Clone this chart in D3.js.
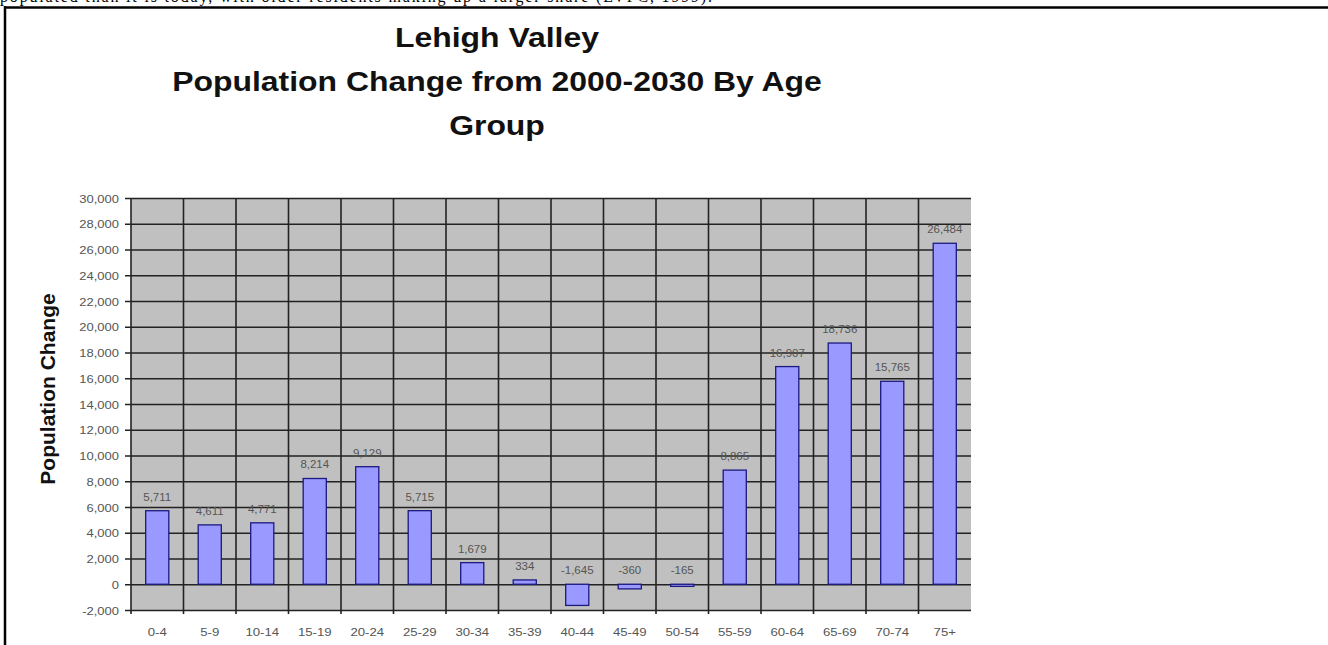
<!DOCTYPE html>
<html><head><meta charset="utf-8">
<script src="https://cdn.jsdelivr.net/npm/d3@7"></script>
<style>
html,body{margin:0;padding:0;background:#fff;}
svg{display:block;}
</style></head>
<body>
<svg id="chart" width="1328" height="645"></svg>
<script>
const categories = ["0-4","5-9","10-14","15-19","20-24","25-29","30-34","35-39","40-44","45-49","50-54","55-59","60-64","65-69","70-74","75+"];
const values = [5711,4611,4771,8214,9129,5715,1679,334,-1645,-360,-165,8865,16907,18736,15765,26484];
const yTicks = [-2000,0,2000,4000,6000,8000,10000,12000,14000,16000,18000,20000,22000,24000,26000,28000,30000];
const titleLines = ["Lehigh Valley","Population Change from 2000-2030 By Age","Group"];
const yTitle = "Population Change";
const topText = "populated than it is today, with older residents making up a larger share (LVPC, 1999).";

const svg = d3.select("#chart");
const L = 131, R = 971, T = 198, B = 610;

const x = d3.scaleBand().domain(categories).range([L, R]).paddingInner(0.56).paddingOuter(0.28);
const xb = d3.scaleBand().domain(categories).range([L, R]).padding(0);
const y = d3.scaleLinear().domain([-2000, 30000]).range([B, T]);
const fmt = d => d3.format(",")(d).replace("\u2212", "-");

// cut-off text line at top (as in the reference, only its lower part is visible)
svg.append("text").attr("x", 0).attr("y", 2)
  .attr("font-family", "Liberation Serif, Times New Roman, serif").attr("font-size", 16)
  .attr("fill", "#000").attr("textLength", 712).text(topText);

// frame
svg.append("line").attr("x1", 4).attr("x2", 1328).attr("y1", 7.5).attr("y2", 7.5).attr("stroke", "#000").attr("stroke-width", 2.5);
svg.append("line").attr("x1", 5).attr("x2", 5).attr("y1", 6).attr("y2", 645).attr("stroke", "#000").attr("stroke-width", 2.5);

// title
const tg = svg.append("g");
titleLines.forEach((t, i) => {
  tg.append("text").attr("transform", `translate(497,${47 + i * 44}) scale(1.14,1)`)
    .attr("text-anchor", "middle").attr("font-family", "Liberation Sans, Arial, sans-serif")
    .attr("font-weight", "bold").attr("font-size", 28).attr("fill", "#111").text(t);
});

// plot background
svg.append("rect").attr("x", L).attr("y", T).attr("width", R - L).attr("height", B - T).attr("fill", "#c0c0c0");

// horizontal gridlines + y ticks
const yAxis = d3.axisLeft(y).tickValues(yTicks).tickSize(0).tickFormat(d => fmt(d));
const ya = svg.append("g").attr("transform", `translate(${L},0)`).call(yAxis);
ya.select(".domain").remove();
ya.selectAll(".tick text").remove();
ya.selectAll(".tick").append("line").attr("x1", -6).attr("x2", R - L).attr("stroke", "#222").attr("stroke-width", 1.6);
ya.selectAll(".tick").append("text")
  .attr("transform", "translate(-12,4) scale(1.18,1)")
  .attr("text-anchor", "end").attr("font-family", "Liberation Sans, Arial, sans-serif")
  .attr("font-size", 11).attr("fill", "#555").text(d => fmt(d));

// vertical gridlines at category boundaries
const bounds = categories.map(c => xb(c));
svg.append("g").selectAll("line").data(bounds).join("line")
  .attr("x1", d => d).attr("x2", d => d).attr("y1", T).attr("y2", B + 4)
  .attr("stroke", "#222").attr("stroke-width", 1.6);

// x labels
svg.append("g").selectAll("text").data(categories).join("text")
  .attr("transform", d => `translate(${x(d) + x.bandwidth() / 2},636) scale(1.2,1)`)
  .attr("text-anchor", "middle").attr("font-family", "Liberation Sans, Arial, sans-serif")
  .attr("font-size", 11).attr("fill", "#555").text(d => d);

// bars
svg.append("g").selectAll("rect").data(values).join("rect")
  .attr("x", (d, i) => x(categories[i]))
  .attr("y", d => y(Math.max(d, 0)))
  .attr("width", x.bandwidth())
  .attr("height", d => Math.max(1, Math.abs(y(d) - y(0))))
  .attr("fill", "#9999ff").attr("stroke", "#1a1a80").attr("stroke-width", 1.3);

// data labels
svg.append("g").selectAll("text").data(values).join("text")
  .attr("transform", (d, i) => `translate(${x(categories[i]) + x.bandwidth() / 2},${y(Math.max(d, 0)) - 10}) scale(1.15,1)`)
  .attr("text-anchor", "middle").attr("font-family", "Liberation Sans, Arial, sans-serif")
  .attr("font-size", 10).attr("fill", "#555").text(d => fmt(d));

// y axis title
svg.append("text").attr("transform", "translate(55,389) rotate(-90)")
  .attr("text-anchor", "middle").attr("font-family", "Liberation Sans, Arial, sans-serif")
  .attr("font-weight", "bold").attr("font-size", 21).attr("fill", "#111").text(yTitle);
</script>
</body></html>
